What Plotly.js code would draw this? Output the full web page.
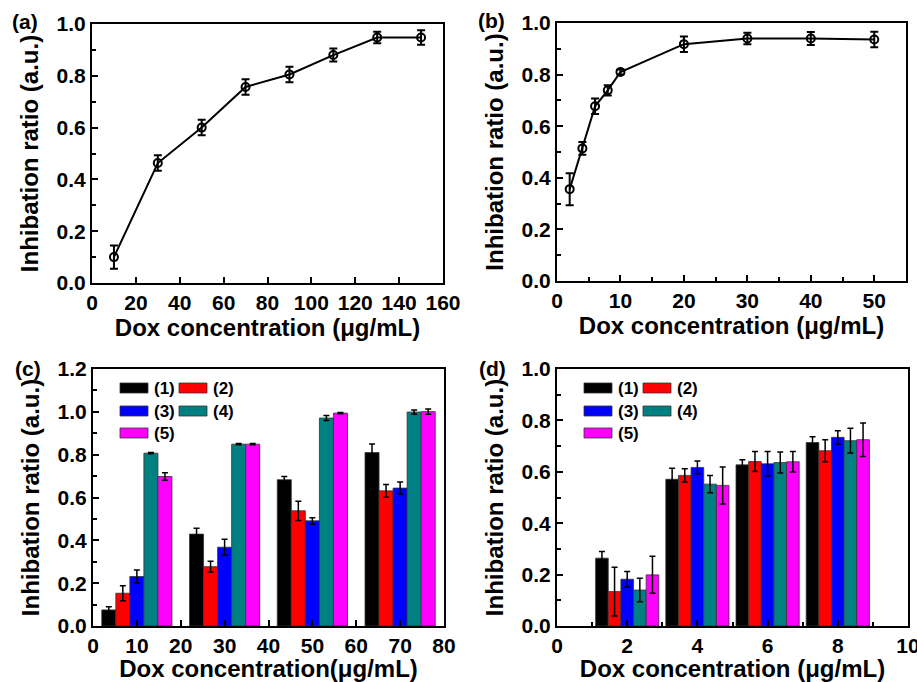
<!DOCTYPE html>
<html>
<head>
<meta charset="utf-8">
<script src="https://cdn.plot.ly/plotly-3.0.1.min.js"></script>
<style>html,body{margin:0;padding:0;background:#fff}#chart{width:917px;height:682px}</style>
</head>
<body>
<div id="chart"></div>
<script>
// ---------- DATA ----------
const aX = [10, 30, 50, 70, 90, 110, 130, 150];
const aY = [0.10, 0.463, 0.60, 0.757, 0.805, 0.88, 0.948, 0.948];
const aErr = [0.045, 0.03, 0.03, 0.03, 0.03, 0.025, 0.022, 0.028];

const bX = [2, 4, 6, 8, 10, 20, 30, 40, 50];
const bY = [0.356, 0.514, 0.677, 0.739, 0.81, 0.918, 0.94, 0.94, 0.936];
const bErr = [0.062, 0.025, 0.03, 0.02, 0.01, 0.03, 0.022, 0.025, 0.03];

const cX = [10, 30, 50, 70];
const cY1 = [0.075, 0.429, 0.683, 0.81];
const cY2 = [0.153, 0.277, 0.538, 0.631];
const cY3 = [0.231, 0.368, 0.491, 0.644];
const cY4 = [0.807, 0.849, 0.971, 0.999];
const cY5 = [0.698, 0.849, 0.994, 1.001];
const cE1 = [0.015, 0.028, 0.015, 0.04];
const cE2 = [0.035, 0.025, 0.045, 0.03];
const cE3 = [0.03, 0.037, 0.015, 0.028];
const cE4 = [0.003, 0.003, 0.012, 0.01];
const cE5 = [0.018, 0.003, 0.003, 0.012];

const dX = [2, 4, 6, 8];
const dY1 = [0.264, 0.571, 0.627, 0.714];
const dY2 = [0.134, 0.586, 0.64, 0.682];
const dY3 = [0.182, 0.617, 0.631, 0.734];
const dY4 = [0.14, 0.552, 0.636, 0.721];
const dY5 = [0.199, 0.547, 0.639, 0.725];
const dE1 = [0.026, 0.043, 0.02, 0.022];
const dE2 = [0.095, 0.026, 0.039, 0.043];
const dE3 = [0.03, 0.025, 0.048, 0.026];
const dE4 = [0.046, 0.034, 0.041, 0.048];
const dE5 = [0.072, 0.072, 0.04, 0.065];

const seriesNames = ['(1)', '(2)', '(3)', '(4)', '(5)'];
const panelLabels = ['(a)', '(b)', '(c)', '(d)'];
const yTitle = 'Inhibation ratio (a.u.)';
const xTitle = 'Dox concentration (μg/mL)';
const xTitleC = 'Dox concentration(μg/mL)';

// ---------- STYLE ----------
const colors = ['#000000', '#ff0000', '#0000ff', '#008080', '#ff00ff'];
const FONT = 'Liberation Sans, Arial, Helvetica, sans-serif';
const W = 917, H = 682;
const px = v => v / W;
const py = v => 1 - v / H;

function xAxis(l, r, t, b, range, dtick, minor, title) {
  return {
    domain: [px(l), px(r)], range: range, dtick: dtick, tick0: 0,
    ticks: 'inside', ticklen: 6, tickwidth: 2, tickcolor: '#000',
    showline: true, linewidth: 2, linecolor: '#000', mirror: true,
    showgrid: false, zeroline: false, fixedrange: true,
    ticklabeloverflow: 'allow',
    tickfont: {family: FONT, size: 21, weight: 'bold', color: '#000'},
    minor: minor ? {dtick: minor, ticks: 'inside', ticklen: 4, tickwidth: 2, tickcolor: '#000', showgrid: false} : undefined,
    title: {text: title, font: {family: FONT, size: 24, weight: 'bold', color: '#000'}, standoff: 4},
    automargin: false
  };
}
function yAxis(t, b, range, dtick, minor) {
  return {
    domain: [py(b), py(t)], range: range, dtick: dtick, tick0: 0,
    tickformat: '.1f',
    ticks: 'inside', ticklen: 6, tickwidth: 2, tickcolor: '#000',
    showline: true, linewidth: 2, linecolor: '#000', mirror: true,
    showgrid: false, zeroline: false, fixedrange: true,
    ticklabeloverflow: 'allow',
    tickfont: {family: FONT, size: 21, weight: 'bold', color: '#000'},
    minor: {dtick: minor, ticks: 'inside', ticklen: 4, tickwidth: 2, tickcolor: '#000', showgrid: false},
    title: {text: yTitle, font: {family: FONT, size: 24, weight: 'bold', color: '#000'}, standoff: 11},
    automargin: false
  };
}

const traces = [];
// (a)
traces.push({
  x: aX, y: aY, xaxis: 'x', yaxis: 'y', type: 'scatter', mode: 'lines+markers',
  line: {color: '#000', width: 2},
  marker: {symbol: 'circle-open', size: 8, color: '#000', line: {width: 2}},
  error_y: {type: 'data', array: aErr, visible: true, color: '#000', thickness: 2, width: 4},
  showlegend: false
});
// (b)
traces.push({
  x: bX, y: bY, xaxis: 'x2', yaxis: 'y2', type: 'scatter', mode: 'lines+markers',
  line: {color: '#000', width: 2},
  marker: {symbol: 'circle-open', size: 8, color: '#000', line: {width: 2}},
  error_y: {type: 'data', array: bErr, visible: true, color: '#000', thickness: 2, width: 4},
  showlegend: false
});
// (c)
const cYs = [cY1, cY2, cY3, cY4, cY5];
const cEs = [cE1, cE2, cE3, cE4, cE5];
cYs.forEach((ys, i) => {
  traces.push({
    x: cX, y: ys, xaxis: 'x3', yaxis: 'y3', type: 'bar', name: seriesNames[i],
    width: 3.2, offset: -8 + 3.2 * i,
    marker: {color: colors[i], line: {color: '#333', width: 0.8}},
    error_y: {type: 'data', array: cEs[i], visible: true, color: '#000', thickness: 1.5, width: 3},
    showlegend: false
  });
});
// (d)
const dYs = [dY1, dY2, dY3, dY4, dY5];
const dEs = [dE1, dE2, dE3, dE4, dE5];
dYs.forEach((ys, i) => {
  traces.push({
    x: dX, y: ys, xaxis: 'x4', yaxis: 'y4', type: 'bar', name: seriesNames[i],
    width: 0.36, offset: -0.9 + 0.36 * i,
    marker: {color: colors[i], line: {color: '#333', width: 0.8}},
    error_y: {type: 'data', array: dEs[i], visible: true, color: '#000', thickness: 1.5, width: 3},
    showlegend: false
  });
});

// panel boxes (pixels): left, right, top, bottom
const boxes = [[92, 443, 24, 283], [557, 906, 23, 281], [93, 444, 369, 626], [557, 908, 369, 626]];

const layout = {
  width: W, height: H,
  margin: {l: 0, r: 0, t: 0, b: 0},
  paper_bgcolor: '#fff', plot_bgcolor: '#fff',
  showlegend: false,
  barmode: 'overlay',
  xaxis: xAxis(...boxes[0], [0, 160], 20, null, xTitle),
  yaxis: yAxis(boxes[0][2], boxes[0][3], [0, 1.0], 0.2, 0.1),
  xaxis2: xAxis(...boxes[1], [0, 55], 10, 5, xTitle),
  yaxis2: yAxis(boxes[1][2], boxes[1][3], [0, 1.0], 0.2, 0.1),
  xaxis3: xAxis(...boxes[2], [0, 80], 10, null, xTitleC),
  yaxis3: yAxis(boxes[2][2], boxes[2][3], [0, 1.2], 0.2, 0.1),
  xaxis4: xAxis(...boxes[3], [0, 10], 2, 1, xTitle),
  yaxis4: yAxis(boxes[3][2], boxes[3][3], [0, 1.0], 0.2, 0.1),
  shapes: [], annotations: []
};
layout.xaxis.anchor = 'y'; layout.yaxis.anchor = 'x';
layout.xaxis2.anchor = 'y2'; layout.yaxis2.anchor = 'x2';
layout.xaxis3.anchor = 'y3'; layout.yaxis3.anchor = 'x3';
layout.xaxis4.anchor = 'y4'; layout.yaxis4.anchor = 'x4';

// panel labels
const labelPos = [[25, 22], [491, 21], [28, 368], [493, 368]];
panelLabels.forEach((t, i) => {
  layout.annotations.push({
    text: t, xref: 'paper', yref: 'paper', x: px(labelPos[i][0]), y: py(labelPos[i][1]),
    xanchor: 'center', yanchor: 'middle', showarrow: false,
    font: {family: FONT, size: 21, weight: 'bold', color: '#000'}
  });
});

// custom legends (c) and (d)
[boxes[2], boxes[3]].forEach(bx => {
  const left = bx[0];
  const slots = [[27, 388], [86, 388], [27, 411], [86, 411], [27, 433]];
  seriesNames.forEach((nm, i) => {
    const sx = left + slots[i][0], sy = slots[i][1];
    layout.shapes.push({
      type: 'rect', xref: 'paper', yref: 'paper',
      x0: px(sx), x1: px(sx + 28), y0: py(sy + 5), y1: py(sy - 5),
      fillcolor: colors[i], line: {color: '#333', width: 0.8}
    });
    layout.annotations.push({
      text: nm, xref: 'paper', yref: 'paper', x: px(sx + 32), y: py(sy),
      xanchor: 'left', yanchor: 'middle', showarrow: false,
      font: {family: FONT, size: 17, weight: 'bold', color: '#000'}
    });
  });
});

Plotly.newPlot('chart', traces, layout, {staticPlot: true, displayModeBar: false});
</script>
</body>
</html>
